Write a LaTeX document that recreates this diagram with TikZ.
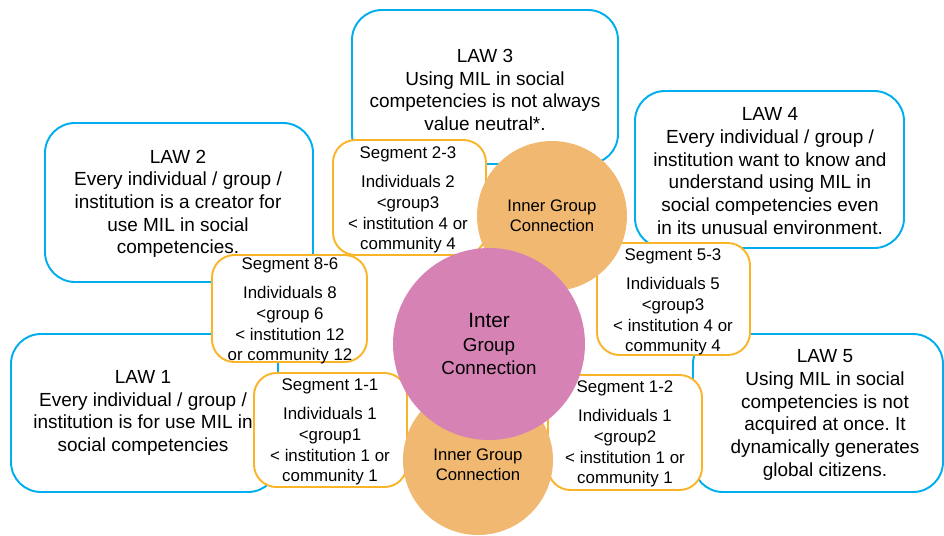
\documentclass[tikz,border=0pt]{standalone}
\usepackage{fontspec}
\setmainfont{Liberation Sans}
\usepackage{tikz}
\usetikzlibrary{shapes,positioning}
\usepackage{xcolor}
\definecolor{lawblue}{RGB}{0,174,239}
\definecolor{segorange}{RGB}{250,180,40}
\definecolor{innerfill}{RGB}{240,184,112}
\definecolor{interfill}{RGB}{214,130,180}
\frenchspacing

\begin{document}
\begin{tikzpicture}[x=0.02cm, y=-0.02cm,
    lawbox/.style={draw=lawblue, line width=1.1pt, fill=white, rounded corners=0.6cm},
    segbox/.style={draw=segorange, line width=1.1pt, fill=white, rounded corners=0.45cm},
    lawtext/.style={align=center, inner sep=0pt, font=\fontsize{10.8}{12.9}\selectfont},
    segtext/.style={align=center, inner sep=0pt, font=\fontsize{9.6}{11.9}\selectfont},
    innercircle/.style={circle, fill=innerfill, minimum size=3cm, inner sep=0pt, align=center, font=\fontsize{9.5}{11.3}\selectfont},
    intercircle/.style={circle, fill=interfill, minimum size=3.84cm, inner sep=0pt, align=center, font=\fontsize{10.7}{13.3}\selectfont}]
    \useasboundingbox (0,0) rectangle (944,535);

    % Laws
    \draw[lawbox] (352,10) rectangle (618,164);
    \node[lawtext] (law3) at (485,90) {LAW 3\\Using MIL in social\\competencies is not always\\value neutral*.};

    \draw[lawbox] (635,91) rectangle (904,248);
    \node[lawtext] (law4) at (770,171) {LAW 4\\Every individual / group /\\institution want to know and\\understand using MIL in\\social competencies even\\in its unusual environment.};

    \draw[lawbox] (45,123) rectangle (313,282);
    \node[lawtext] (law2) at (178,204) {LAW 2\\Every individual / group /\\institution is a creator for\\use MIL in social\\competencies.};

    \draw[lawbox] (11,334) rectangle (278,492);
    \node[lawtext] (law1) at (143,413) {LAW 1\\Every individual / group /\\institution is for use MIL in\\social competencies};

    \draw[lawbox] (693,334) rectangle (943,492);
    \node[lawtext] (law5) at (825,415) {LAW 5\\Using MIL in social\\competencies is not\\acquired at once. It\\dynamically generates\\global citizens.};

    % Segments
    \draw[segbox] (333,140) rectangle (486,255);
    \node[segtext] (seg23) at (408,200) {Segment 2-3\\[4.5pt]Individuals 2\\<group3\\< institution 4 or\\community 4};

    \draw[segbox] (212,255) rectangle (367,362);
    \node[segtext] (seg86) at (290,311) {Segment 8-6\\[4.5pt]Individuals 8\\<group 6\\< institution 12\\or community 12};

    \draw[segbox] (597,243) rectangle (750,355);
    \node[segtext] (seg53) at (673,302) {Segment 5-3\\[4.5pt]Individuals 5\\<group3\\< institution 4 or\\community 4};

    \draw[segbox] (254,373) rectangle (407,487);
    \node[segtext] (seg11) at (330,432) {Segment 1-1\\[4.5pt]Individuals 1\\<group1\\< institution 1 or\\community 1};

    \draw[segbox] (548,375) rectangle (702,490);
    \node[segtext] (seg12) at (625,434) {Segment 1-2\\[4.5pt]Individuals 1\\<group2\\< institution 1 or\\community 1};

    % Connections
    \node[innercircle] (innertop) at (552,216) {Inner Group\\Connection};
    \node[innercircle] (innerbottom) at (478,460) {};
    \node[align=center, inner sep=0pt, font=\fontsize{9.5}{11.3}\selectfont] (innerbottomtext) at (478,465) {Inner Group\\Connection};
    \node[intercircle] (inter) at (489,344) {{\fontsize{11.8}{13.3}\selectfont Inter}\\Group\\Connection};
\end{tikzpicture}
\end{document}
